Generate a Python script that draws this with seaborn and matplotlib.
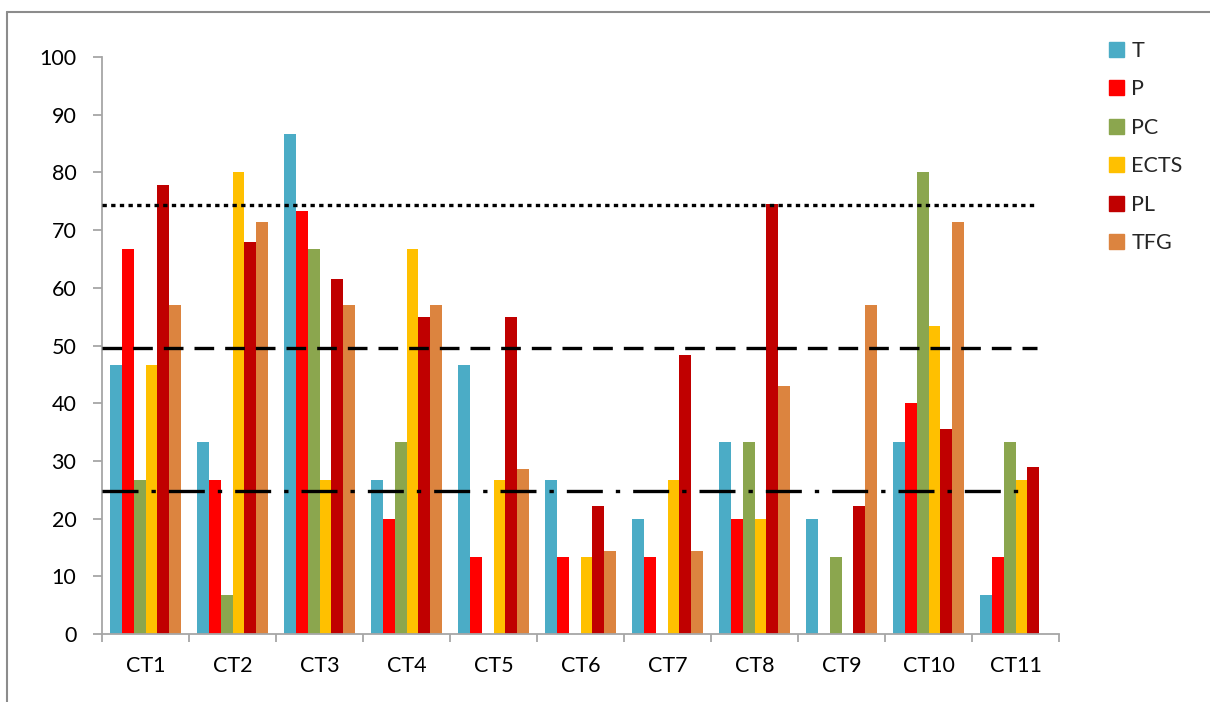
import matplotlib
matplotlib.use("Agg")
import matplotlib.pyplot as plt
import seaborn as sns
import pandas as pd
import numpy as np
from matplotlib.lines import Line2D
from matplotlib.ticker import MultipleLocator

# ---- data ----
categories = ["CT1", "CT2", "CT3", "CT4", "CT5", "CT6", "CT7", "CT8", "CT9", "CT10", "CT11"]
series_names = ["T", "P", "PC", "ECTS", "PL", "TFG"]
T = [46.7, 33.3, 86.7, 26.7, 46.7, 26.7, 20.0, 33.3, 20.0, 33.3, 6.7]
P = [66.7, 26.7, 73.3, 20.0, 13.3, 13.3, 13.3, 20.0, 0.0, 40.0, 13.3]
PC = [26.7, 6.7, 66.7, 33.3, 0.0, 0.0, 0.0, 33.3, 13.3, 80.0, 33.3]
ECTS = [46.7, 80.0, 26.7, 66.7, 26.7, 13.3, 26.7, 20.0, 0.0, 53.3, 26.7]
PL = [77.8, 68.0, 61.5, 55.0, 55.0, 22.2, 48.4, 74.5, 22.2, 35.5, 28.9]
TFG = [57.1, 71.4, 57.1, 57.1, 28.6, 14.3, 14.3, 42.9, 57.1, 71.4, 0.0]
ref_lines = [74.4, 49.6, 24.8]
yticks = list(range(0, 101, 10))

colors = ["#4BACC6", "#FF0000", "#8BA64E", "#FFC000", "#C00000", "#DC843F"]

values = [T, P, PC, ECTS, PL, TFG]
df = pd.DataFrame({
    "cat": np.repeat([categories], len(series_names), axis=0).ravel(),
    "series": np.repeat(series_names, len(categories)),
    "value": np.concatenate(values),
})

sns.set_theme(style="white")
plt.rcParams["font.family"] = ["Lato", "DejaVu Sans"]

fig = plt.figure(figsize=(12.10, 7.02), dpi=100)
ax = fig.add_axes([102 / 1210, 1 - 634 / 702, 957 / 1210, 577 / 702])

sns.barplot(data=df, x="cat", y="value", hue="series", order=categories,
            hue_order=series_names, palette=colors, width=0.82, ax=ax,
            saturation=1, errorbar=None, legend=False, linewidth=0)

ax.set_ylim(0, 100)
ax.set_xlim(-0.5, len(categories) - 0.5)
ax.set_yticks(yticks)
ax.set_xlabel("")
ax.set_ylabel("")

gray = "#A6A6A6"
for s in ["top", "right"]:
    ax.spines[s].set_visible(False)
for s in ["left", "bottom"]:
    ax.spines[s].set_color(gray)
    ax.spines[s].set_linewidth(1.3)

ax.tick_params(axis="y", which="major", direction="out", length=6.5, width=1.3,
               color=gray, labelsize=15.5, pad=12, left=True, labelcolor="black")
ax.tick_params(axis="x", which="major", length=0, labelsize=15.5, pad=16, labelcolor="black")
ax.xaxis.set_minor_locator(MultipleLocator(1, offset=0.5))
ax.tick_params(axis="x", which="minor", direction="out", length=6, width=1.3,
               color=gray, bottom=True)
ax.grid(False)

# reference lines
styles = [(0, (1.3, 1.3)), (0, (5.9, 3.3)), (0, (10.8, 3.9, 1.3, 3.9))]
ends = [0.977, 0.977, 0.968]
for val, ls, xe in zip(ref_lines, styles, ends):
    ax.axhline(val, xmin=0.0, xmax=xe, color="black", linewidth=2.4,
               linestyle=ls, dash_capstyle="butt", zorder=5)

# legend
handles = [plt.Rectangle((0, 0), 1, 1, color=c) for c in colors]
fig.legend(handles, series_names, loc="upper left",
           bbox_to_anchor=(1100 / 1210, 1 - 32 / 702), frameon=False,
           fontsize=15.5, handlelength=0.7, handleheight=0.7,
           handletextpad=0.35, labelspacing=0.86, borderaxespad=0)

# chart border
fig.add_artist(Line2D([7 / 1210, 7 / 1210], [0, 1 - 12 / 702], color="#8C8C8C",
                      linewidth=1.5, transform=fig.transFigure))
fig.add_artist(Line2D([7 / 1210, 1], [1 - 12 / 702, 1 - 12 / 702], color="#8C8C8C",
                      linewidth=1.5, transform=fig.transFigure))

fig.savefig("out.png", dpi=100)
